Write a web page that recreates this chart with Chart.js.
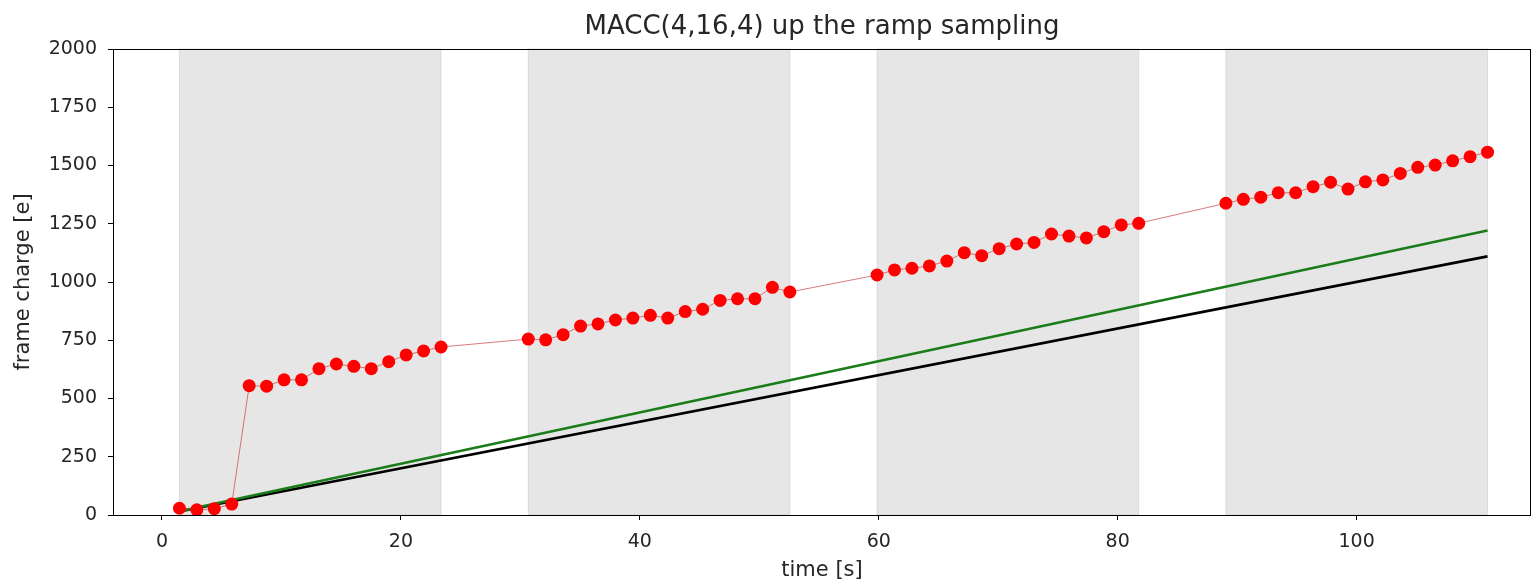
<!DOCTYPE html>
<html>
<head>
<meta charset="utf-8">
<title>MACC(4,16,4) up the ramp sampling</title>
<script src="https://cdn.jsdelivr.net/npm/chart.js@4/dist/chart.umd.min.js"></script>
<style>
  html, body { margin: 0; padding: 0; background: #fff; }
  canvas { display: block; }
</style>
</head>
<body>
<canvas id="rampChart" width="1533" height="580"></canvas>
<script>
document.addEventListener('DOMContentLoaded', function () {

// read times of the 4 groups x 16 frames (4 frames skipped between groups)
const frameTimes = [
    1.46, 2.92, 4.38, 5.84, 7.30, 8.76, 10.22, 11.68, 13.14, 14.60, 16.06, 17.52, 18.98, 20.44, 21.90, 23.36,
    30.66, 32.12, 33.58, 35.04, 36.50, 37.96, 39.42, 40.88, 42.34, 43.80, 45.26, 46.72, 48.18, 49.64, 51.10, 52.56,
    59.86, 61.32, 62.78, 64.24, 65.70, 67.16, 68.62, 70.08, 71.54, 73.00, 74.46, 75.92, 77.38, 78.84, 80.30, 81.76,
    89.06, 90.52, 91.98, 93.44, 94.90, 96.36, 97.82, 99.28, 100.74, 102.20, 103.66, 105.12, 106.58, 108.04, 109.50, 110.96
];

// accumulated charge in each read frame
const frameCharge = [
    29, 22, 27, 47, 555, 553, 580, 580, 628, 648, 638, 628, 658, 687, 704, 721,
    755, 752, 774, 811, 820, 837, 845, 857, 845, 873, 883, 921, 928, 928, 977, 957,
    1030, 1052, 1059, 1069, 1090, 1126, 1113, 1143, 1163, 1170, 1206, 1197, 1189, 1216, 1245, 1252,
    1338, 1355, 1364, 1383, 1383, 1409, 1428, 1399, 1430, 1438, 1466, 1492, 1502, 1520, 1538, 1557
];

// straight reference lines, first to last frame
const lineTimes = [1.46, 110.96];
const trueCharge = [15, 1110];
const fitCharge = [16, 1221];

// start/end of each group of frames
const groupStart = [1.46, 30.66, 59.86, 89.06];
const groupEnd = [23.36, 52.56, 81.76, 110.96];

const xTicks = [0, 20, 40, 60, 80, 100];
const yTicks = [0, 250, 500, 750, 1000, 1250, 1500, 1750, 2000];

const toPoints = (xs, ys) => xs.map((x, i) => ({ x: x, y: ys[i] }));

Chart.defaults.font.family = "'DejaVu Sans', sans-serif";
Chart.defaults.color = '#262626';

// grey spans behind the groups
const groupSpans = {
    id: 'groupSpans',
    beforeDatasetsDraw(chart) {
        const { ctx, chartArea, scales } = chart;
        ctx.save();
        ctx.fillStyle = 'rgba(128,128,128,0.2)';
        ctx.strokeStyle = 'rgba(128,128,128,0.2)';
        ctx.lineWidth = 1;
        for (let i = 0; i < groupStart.length; i++) {
            const x0 = scales.x.getPixelForValue(groupStart[i]);
            const x1 = scales.x.getPixelForValue(groupEnd[i]);
            ctx.fillRect(x0, chartArea.top, x1 - x0, chartArea.bottom - chartArea.top);
            ctx.strokeRect(x0, chartArea.top, x1 - x0, chartArea.bottom - chartArea.top);
        }
        ctx.restore();
    }
};

// box around the axes
const axesFrame = {
    id: 'axesFrame',
    afterDatasetsDraw(chart) {
        const { ctx, chartArea } = chart;
        ctx.save();
        ctx.strokeStyle = '#000';
        ctx.lineWidth = 1;
        ctx.strokeRect(chartArea.left + 0.5, chartArea.top + 0.5,
            chartArea.right - chartArea.left - 1, chartArea.bottom - chartArea.top);
        ctx.restore();
    }
};

const ctx = document.getElementById('rampChart').getContext('2d');
new Chart(ctx, {
    type: 'scatter',
    data: {
        datasets: [
            {
                label: 'frames',
                data: toPoints(frameTimes, frameCharge),
                showLine: true,
                borderColor: 'rgba(200,50,50,0.65)',
                borderWidth: 1,
                pointRadius: 6.5,
                pointBackgroundColor: '#ff0000',
                pointBorderWidth: 0,
                order: 0
            },
            {
                label: 'fit',
                data: toPoints(lineTimes, fitCharge),
                showLine: true,
                borderColor: '#1a7d1a',
                borderWidth: 2.7,
                pointRadius: 0,
                order: 1
            },
            {
                label: 'true',
                data: toPoints(lineTimes, trueCharge),
                showLine: true,
                borderColor: '#000000',
                borderWidth: 2.7,
                pointRadius: 0,
                order: 2
            }
        ]
    },
    options: {
        responsive: false,
        animation: false,
        layout: { autoPadding: false, padding: { left: 0, right: 2, top: 0, bottom: 0 } },
        plugins: {
            legend: { display: false },
            tooltip: { enabled: false },
            title: {
                display: true,
                fullSize: false,
                text: 'MACC(4,16,4) up the ramp sampling',
                font: { size: 26, weight: 'normal' },
                color: '#262626',
                padding: { top: 12, bottom: 5.8 }
            }
        },
        scales: {
            x: {
                type: 'linear',
                min: -4.1,
                max: 114.6,
                afterBuildTicks: scale => { scale.ticks = xTicks.map(v => ({ value: v })); },
                afterFit: scale => {
                    scale.height = 65;
                    scale.paddingLeft = 0;
                    scale.paddingRight = 0;
                },
                border: { display: false },
                grid: { drawOnChartArea: false, drawTicks: true, tickLength: 5, color: '#000' },
                ticks: { font: { size: 19 }, padding: 11, maxRotation: 0, callback: v => String(v) },
                title: { display: true, text: 'time [s]', font: { size: 21 }, padding: { top: 0, bottom: -3 } }
            },
            y: {
                type: 'linear',
                min: 0,
                max: 2000,
                afterBuildTicks: scale => { scale.ticks = yTicks.map(v => ({ value: v })); },
                afterFit: scale => { scale.width = 113; },
                border: { display: false },
                grid: { drawOnChartArea: false, drawTicks: true, tickLength: 5, color: '#000' },
                ticks: { font: { size: 19 }, padding: 11, callback: v => String(v) },
                title: { display: true, text: 'frame charge [e]', font: { size: 21 }, padding: { top: 11, bottom: 0 } }
            }
        }
    },
    plugins: [groupSpans, axesFrame]
});

});
</script>
</body>
</html>
